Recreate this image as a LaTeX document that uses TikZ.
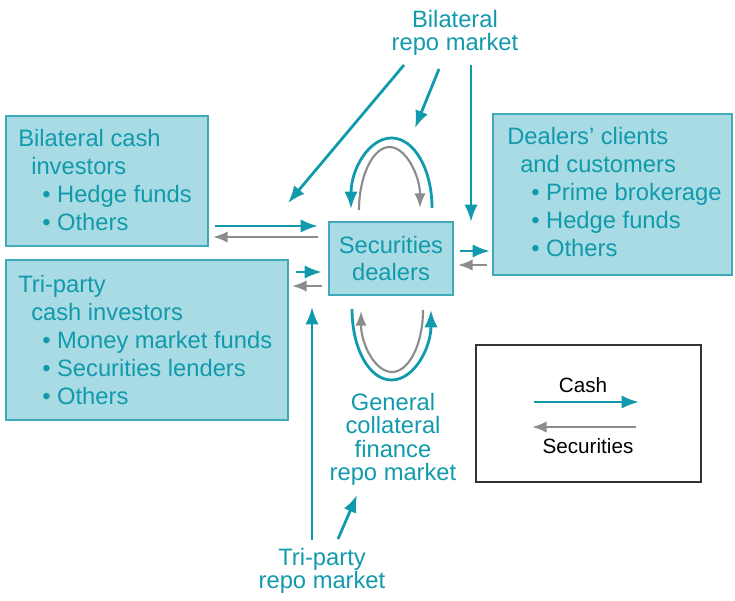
\documentclass[tikz,border=0pt]{standalone}
\usepackage{fontspec}
\setmainfont{Liberation Sans}
\usepackage{tikz}
\usetikzlibrary{arrows.meta}
\definecolor{repoteal}{RGB}{16,154,172}
\definecolor{boxfill}{RGB}{168,219,227}
\definecolor{boxline}{RGB}{64,170,184}
\definecolor{secgray}{RGB}{140,140,140}
\tikzset{
  box/.style={draw=boxline, fill=boxfill, line width=1.5pt, inner sep=0},
  boxtext/.style={text=repoteal, align=left, inner sep=0, anchor=north west, font=\fontsize{17.8}{21}\selectfont},
  market/.style={text=repoteal, align=center, inner sep=0, anchor=north, font=\fontsize{17.8}{17.5}\selectfont},
  cash/.style={draw=repoteal, line width=2.1pt, -{Latex[length=13pt,width=10pt]}},
  sec/.style={draw=secgray, line width=1.6pt, -{Latex[length=11pt,width=8.5pt]}},
  legendtext/.style={inner sep=0, anchor=base, font=\fontsize{15.5}{18}\selectfont}
}
\newcommand{\bul}{\hspace*{18pt}\textbullet\ }
\begin{document}
\begin{tikzpicture}[x=0.75pt, y=-0.75pt]
\useasboundingbox (0,0) rectangle (735,600);
% boxes
\node[box, minimum width=151.5pt, minimum height=97.5pt] (bcash) at (107,181) {};
\node[box, minimum width=211.5pt, minimum height=120pt] (tcash) at (147,340) {};
\node[box, minimum width=179.25pt, minimum height=120.75pt] (clients) at (612.5,194.5) {};
\node[box, minimum width=93pt, minimum height=54.75pt, text=repoteal, align=center,
  font=\fontsize{17.8}{20.25}\selectfont] (dealers) at (391,258.5) {Securities\\dealers};
\node[draw=black!80, line width=0.9pt, minimum width=168.75pt, minimum height=102.75pt] (legend) at (588.5,413.5) {};
% box texts
\node[boxtext] (bcashtxt) at (18,129) {Bilateral cash\\\hspace*{9.75pt}investors\\\bul Hedge funds\\\bul Others};
\node[boxtext] (tcashtxt) at (18,275) {Tri-party\\\hspace*{9.75pt}cash investors\\\bul Money market funds\\\bul Securities lenders\\\bul Others};
\node[boxtext] (clientstxt) at (507,127) {Dealers' clients\\\hspace*{9.75pt}and customers\\\bul Prime brokerage\\\bul Hedge funds\\\bul Others};
% markets
\node[market] (bilrepo) at (455,10) {Bilateral\\repo market};
\node[market] (gcrepo) at (393,393) {General\\collateral\\finance\\repo market};
\node[market] (trirepo) at (322,548) {Tri-party\\repo market};
\node[legendtext] (cashlbl) at (583,392) {Cash};
\node[legendtext] (seclbl) at (588,453) {Securities};
% arrow ends
\coordinate (bc1) at (215,226); \coordinate (bc2) at (318,226);
\coordinate (bc3) at (318,237); \coordinate (bc4) at (213,237);
\coordinate (tc1) at (296,272); \coordinate (tc2) at (322,272);
\coordinate (tc3) at (322,286); \coordinate (tc4) at (292,286);
\coordinate (cl1) at (460,251); \coordinate (cl2) at (490,251);
\coordinate (cl3) at (487,265); \coordinate (cl4) at (458,265);
\coordinate (br1) at (404,65); \coordinate (br2) at (288,203);
\coordinate (br3) at (439,69); \coordinate (br4) at (415,128);
\coordinate (br5) at (471,65); \coordinate (br6) at (471,222);
\coordinate (tr1) at (312,540); \coordinate (tr2) at (312,307);
\coordinate (tr3) at (338,539); \coordinate (tr4) at (357,495);
\coordinate (lg1) at (534,402); \coordinate (lg2) at (639,402);
\coordinate (lg3) at (636,427); \coordinate (lg4) at (532,427);
% straight flows
\draw[cash] (bc1) -- (bc2);
\draw[sec] (bc3) -- (bc4);
\draw[cash] (tc1) -- (tc2);
\draw[sec] (tc3) -- (tc4);
\draw[cash] (cl1) -- (cl2);
\draw[sec] (cl3) -- (cl4);
\draw[cash] (br1) -- (br2);
\draw[cash] (br3) -- (br4);
\draw[cash] (br5) -- (br6);
\draw[cash] (tr1) -- (tr2);
\draw[cash] (tr3) -- (tr4);
\draw[cash] (lg1) -- (lg2);
\draw[sec] (lg3) -- (lg4);
% loops on the dealers
\draw[cash] (432,208) .. controls (432,169) and (414,138) .. (391.5,138) .. controls (369,138) and (351,169) .. (351,209);
\draw[sec] (359,210) .. controls (359,176) and (373,147) .. (389.5,147) .. controls (406,147) and (420,176) .. (420,208);
\draw[cash] (352,309) .. controls (352,348) and (369,380) .. (391.5,380) .. controls (414,380) and (431,348) .. (431,310);
\draw[sec] (423,310) .. controls (423,344) and (409,372) .. (392,372) .. controls (375,372) and (361,344) .. (361,311);
\end{tikzpicture}
\end{document}
